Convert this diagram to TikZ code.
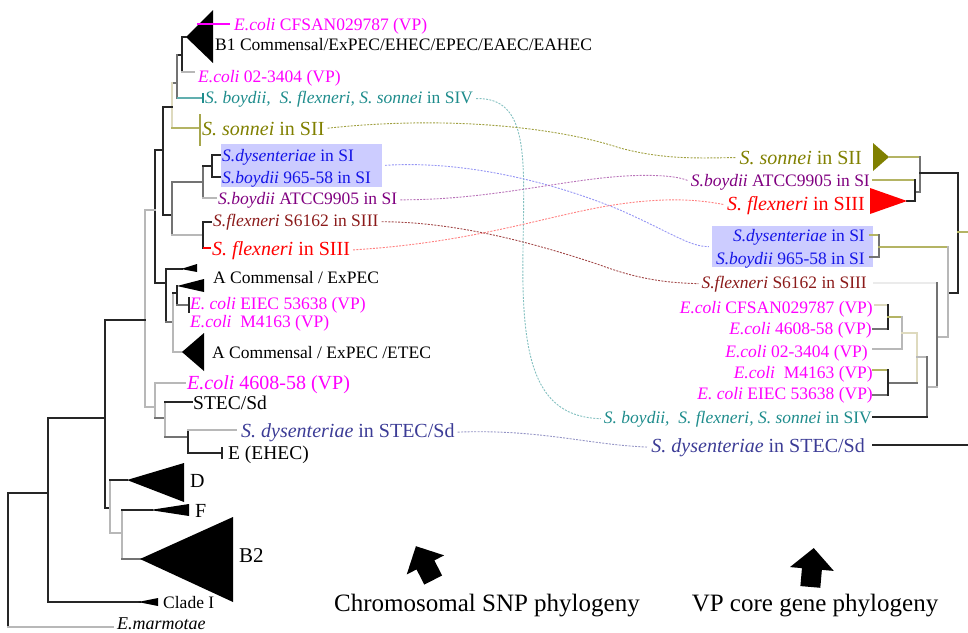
\documentclass[tikz,border=0pt]{standalone}
\usepackage{fontspec}
\setmainfont{Liberation Serif}
\definecolor{cMag}{HTML}{FF00FF}
\definecolor{cTeal}{HTML}{1E8C8C}
\definecolor{cOlive}{HTML}{808000}
\definecolor{cBlue}{HTML}{1414E6}
\definecolor{cPurple}{HTML}{800080}
\definecolor{cDarkRed}{HTML}{8B1A1A}
\definecolor{cRed}{HTML}{FF0000}
\definecolor{cSlate}{HTML}{3C3C96}
\definecolor{cBox}{HTML}{CCCCFF}
\newcommand\fsN{\fontsize{17.5}{20}\selectfont}
\newcommand\fsL{\fontsize{20}{22}\selectfont}
\newcommand\fsT{\fontsize{25}{28}\selectfont}
\begin{document}
\begin{tikzpicture}[x=1pt,y=-1pt,
  lab/.style={inner sep=0pt, anchor=base west, font=\fsN},
  rlab/.style={inner sep=0pt, anchor=base east, font=\fsN},
  bigf/.style={font=\fsL},
  brDark/.style={line width=1.1pt, line cap=rect, draw=black!85},
  brMid/.style={line width=1.1pt, line cap=rect, draw=black!55},
  brLight/.style={line width=1.1pt, line cap=rect, draw=black!28},
  brBeige/.style={line width=1.1pt, line cap=rect, draw={rgb,255:red,222;green,218;blue,190}},
  brOlive/.style={line width=1.1pt, line cap=rect, draw={rgb,255:red,180;green,180;blue,100}},
  hibox/.style={fill=cBox, draw=none, inner sep=0pt},
  link/.style={line width=0.9pt, dash pattern=on 2pt off 1.3pt, shorten <=3pt, shorten >=3pt}
]
\useasboundingbox (0,0) rectangle (968,632);

% ---------- highlight boxes ----------
\node[hibox, minimum width=161pt, minimum height=43pt] (lBox) at (301.5,165.5) {};
\node[hibox, minimum width=161pt, minimum height=41pt] (rBox) at (792.5,246.5) {};

% ---------- chromosomal SNP tree (left) ----------
\fill (186,37) -- (213,10) -- (213,63) -- cycle;
\draw[brDark] (182,37) -- (186,37);
\draw[brDark] (182,37) -- (182,72);
\draw[brLight] (182,72) -- (194,72);
\draw[cMag, line width=1.4pt] (197,24) -- (230,24);
\draw[brDark] (177,55) -- (182,55);
\draw[brMid] (177,55) -- (177,98);
\draw[line width=1.4pt, draw=cTeal!70] (177,98) -- (203,98);
\draw[line width=1.1pt, cTeal] (203,93) -- (203,103);
\draw[brMid] (172,83) -- (177,83);
\draw[brBeige] (172,83) -- (172,128);
\draw[brOlive] (172,128) -- (200,128);
\draw[line width=1.1pt, draw=cOlive!70] (200,114) -- (200,146);
\draw[brDark] (163,107) -- (172,107);
\draw[brDark] (163,107) -- (163,215);
\draw[brDark] (163,215) -- (172,215);
\draw[brMid] (172,182) -- (172,235);
\draw[brMid, line width=1.5pt] (172,182) -- (203,182);
\draw[brLight] (172,235) -- (203,235);
\draw[brMid] (203,166) -- (203,198);
\draw[brLight] (203,198) -- (216,198);
\draw[brDark] (203,166) -- (212,166);
\draw[brDark] (212,155) -- (212,177);
\draw[brDark] (212,155) -- (220,155);
\draw[brDark] (212,177) -- (220,177);
\draw[brDark] (203,222) -- (203,248);
\draw[brDark] (203,222) -- (211,222);
\draw[line width=1.1pt, cRed] (203,248) -- (211,248);
\draw[brDark] (155,150) -- (163,150);
\draw[brDark] (155,150) -- (155,283);
\draw[brDark] (155,283) -- (166,283);
\draw[brDark] (166,269) -- (166,322);
\draw[brDark] (166,269) -- (182,269);
\fill (181,269) -- (197,264) -- (197,272) -- cycle;
\draw[brMid] (166,322) -- (173,322);
\draw[brLight] (173,293) -- (173,352);
\draw[brDark] (173,293) -- (177,293);
\draw[brDark] (177,286) -- (177,305);
\fill (177,286) -- (204,279) -- (204,292) -- cycle;
\draw[brMid] (177,305) -- (189,305);
\draw[brDark] (189,298) -- (189,312);
\draw[brLight] (173,352) -- (182,352);
\fill (182,352) -- (204,333) -- (204,371) -- cycle;
\draw[brLight] (145,210) -- (155,210);
\draw[brLight] (145,210) -- (145,407);
\draw[brLight] (145,407) -- (155,407);
\draw[brLight] (155,383) -- (155,418);
\draw[brLight] (155,383) -- (185,383);
\draw[brMid] (155,418) -- (165,418);
\draw[brLight] (165,402) -- (165,437);
\draw[brDark] (165,402) -- (192,402);
\draw[brMid] (165,437) -- (188,437);
\draw[brDark] (188,430) -- (188,453);
\draw[brLight] (188,430) -- (236,430);
\draw[brDark] (188,453) -- (222,453);
\draw[brDark] (222,448) -- (222,458);
\draw[brDark] (105,320) -- (145,320);
\draw[brDark] (105,320) -- (105,508);
\draw[brDark] (105,508) -- (110,508);
\draw[brLight] (110,480) -- (110,533);
\draw[brDark] (110,480) -- (127,480);
\fill (127,480) -- (184,463) -- (184,502) -- cycle;
\draw[brLight] (110,533) -- (122,533);
\draw[brLight] (122,510) -- (122,559);
\draw[brDark] (122,510) -- (152,510);
\fill (150,510) -- (189,504) -- (189,516) -- cycle;
\draw[brMid] (122,559) -- (141,559);
\fill (140,559) -- (233,517) -- (233,602) -- cycle;
\draw[brDark] (48,418) -- (105,418);
\draw[brDark] (48,418) -- (48,602);
\draw[brDark] (48,602) -- (140,602);
\fill (138,602) -- (158,598) -- (158,606) -- cycle;
\draw[brDark] (8,493) -- (48,493);
\draw[brDark] (8,493) -- (8,627);
\draw[brLight] (8,627) -- (113,627);

% ---------- VP core gene tree (right) ----------
\fill[cOlive] (873,143) -- (873,171) -- (889,157) -- cycle;
\draw[brOlive] (889,157) -- (920,157);
\draw[brMid] (920,157) -- (920,192);
\draw[brMid] (915,192) -- (920,192);
\draw[brOlive] (873,180) -- (915,180);
\draw[brDark] (915,180) -- (915,201);
\draw[brDark] (907,201) -- (915,201);
\fill[cRed] (870,188) -- (870,214) -- (907,201) -- cycle;
\draw[brDark] (920,173) -- (958,173);
\draw[brDark] (958,173) -- (958,293);
\draw[brDark] (948,293) -- (958,293);
\draw[brOlive] (958,232) -- (968,232);
\draw[brOlive] (870,235) -- (879,235);
\draw[brMid] (870,257) -- (879,257);
\draw[brMid] (879,235) -- (879,257);
\draw[brOlive] (879,247) -- (948,247);
\draw[brLight] (948,247) -- (948,337);
\draw[brLight] (937,337) -- (948,337);
\draw[line width=1.1pt, draw=black!8] (873,283) -- (937,283);
\draw[brMid] (937,283) -- (937,387);
\draw[brLight] (927,387) -- (937,387);
\draw[brBeige] (875,305) -- (888,305);
\draw[brMid] (873,329) -- (888,329);
\draw[brDark] (888,305) -- (888,329);
\draw[brOlive] (888,317) -- (902,317);
\draw[brLight] (902,317) -- (902,349);
\draw[brLight] (873,349) -- (902,349);
\draw[brBeige] (902,333) -- (917,333);
\draw[brBeige] (917,333) -- (917,383);
\draw[brMid] (888,383) -- (917,383);
\draw[brOlive] (873,370) -- (888,370);
\draw[brMid] (873,395) -- (888,395);
\draw[brDark] (888,370) -- (888,395);
\draw[brLight] (917,357) -- (927,357);
\draw[brMid] (927,357) -- (927,417);
\draw[brDark] (873,417) -- (927,417);
\draw[brDark] (873,445) -- (968,445);

% ---------- left labels ----------
\node[lab, cMag] (lCFSAN) at (234,30) {\textit{E.coli} CFSAN029787 (VP)};
\node[lab] (lB1) at (215,50) {B1 Commensal/ExPEC/EHEC/EPEC/EAEC/EAHEC};
\node[lab, cMag] (l0234) at (198,82) {\textit{E.coli} 02-3404 (VP)};
\node[lab, cTeal] (lSIV) at (205,103) {\textit{S. boydii,\ \ S. flexneri, S. sonnei} in SIV};
\node[lab, bigf, cOlive] (lSII) at (202,135) {\textit{S. sonnei} in SII};
\node[lab, cBlue] (lDys) at (222,161) {\textit{S.dysenteriae} in SI};
\node[lab, cBlue] (l965) at (222,183) {\textit{S.boydii} 965-58 in SI};
\node[lab, cPurple] (lATCC) at (218,204) {\textit{S.boydii} ATCC9905 in SI};
\node[lab, cDarkRed] (lS6162) at (213,226) {\textit{S.flexneri} S6162 in SIII};
\node[lab, bigf, cRed] (lSIII) at (212,255) {\textit{S. flexneri} in SIII};
\node[lab] (lA1) at (213,283) {A Commensal / ExPEC};
\node[lab, cMag] (lEIEC) at (190,309) {\textit{E. coli} EIEC 53638 (VP)};
\node[lab, cMag] (lM4163) at (190,327) {\textit{E.coli}\ \ M4163 (VP)};
\node[lab] (lA2) at (212,358) {A Commensal / ExPEC /ETEC};
\node[lab, bigf, cMag] (l4608) at (187,389) {\textit{E.coli} 4608-58 (VP)};
\node[lab, font=\fontsize{19.5}{21}\selectfont] (lSTECSd) at (193,409) {STEC/Sd};
\node[lab, bigf, cSlate] (lSTEC) at (241,437) {\textit{S. dysenteriae} in STEC/Sd};
\node[lab, font=\fontsize{19.5}{21}\selectfont] (lEHEC) at (228,459) {E (EHEC)};
\node[lab, bigf] (lD) at (190,487) {D};
\node[lab, bigf] (lF) at (195,517) {F};
\node[lab, font=\fontsize{21}{23}\selectfont] (lB2) at (239,562) {B2};
\node[lab] (lClade) at (163,608) {Clade I};
\node[lab, font=\fontsize{18}{20}\selectfont] (lMarm) at (117,629) {\textit{E.marmotae}};

% ---------- right labels ----------
\node[rlab, bigf, cOlive] (rSII) at (862,164) {\textit{S. sonnei} in SII};
\node[rlab, cPurple] (rATCC) at (870,186) {\textit{S.boydii} ATCC9905 in SI};
\node[rlab, bigf, cRed] (rSIII) at (865,210) {\textit{S. flexneri} in SIII};
\node[rlab, cBlue] (rDys) at (865,241) {\textit{S.dysenteriae} in SI};
\node[rlab, cBlue] (r965) at (865,264) {\textit{S.boydii} 965-58 in SI};
\node[rlab, cDarkRed] (rS6162) at (867,288) {\textit{S.flexneri} S6162 in SIII};
\node[rlab, cMag] (rCFSAN) at (873,313) {\textit{E.coli} CFSAN029787 (VP)};
\node[rlab, cMag] (r4608) at (872,334) {\textit{E.coli} 4608-58 (VP)};
\node[rlab, cMag] (r0234) at (868,357) {\textit{E.coli} 02-3404 (VP)};
\node[rlab, cMag] (rM4163) at (873,378) {\textit{E.coli}\ \ M4163 (VP)};
\node[rlab, cMag] (rEIEC) at (873,399) {\textit{E. coli} EIEC 53638 (VP)};
\node[rlab, cTeal] (rSIV) at (872,423) {\textit{S. boydii,\ \ S. flexneri, S. sonnei} in SIV};
\node[rlab, bigf, cSlate] (rSTEC) at (865,452) {\textit{S. dysenteriae} in STEC/Sd};

% ---------- dotted links between the two trees ----------
\draw[link, cTeal!55] (lSIV.east) .. controls (530,97) and (524,160) .. (523,250)
  .. controls (521,360) and (535,417) .. (rSIV.west);
\draw[link, cOlive!75] (lSII.east) .. controls (450,115) and (560,128) .. (620,148)
  .. controls (665,160) and (700,158) .. (rSII.west);
\draw[link, cBlue!45] (lBox.east) .. controls (470,160) and (560,185) .. (620,210)
  .. controls (670,232) and (690,247) .. (rBox.west);
\draw[link, cPurple!55] (lATCC.east) .. controls (490,200) and (560,180) .. (625,176)
  .. controls (660,174) and (680,177) .. (rATCC.west);
\draw[link, cRed!50] (lSIII.east) .. controls (480,242) and (550,214) .. (620,204)
  .. controls (670,197) and (700,200) .. (rSIII.west);
\draw[link, cDarkRed!80] (lS6162.east) .. controls (460,222) and (540,245) .. (600,265)
  .. controls (640,280) and (670,283) .. (rS6162.west);
\draw[link, cSlate!55] (lSTEC.east) .. controls (540,429) and (590,445) .. (rSTEC.west);

% ---------- block arrows and captions ----------
\fill[shift={(425,564)}, rotate=27]
  (0,-20) -- (21,1) -- (10,1) -- (10,18) -- (-10,18) -- (-10,1) -- (-21,1) -- cycle;
\fill[shift={(812,568)}, rotate=-5]
  (0,-20) -- (22,1) -- (10,1) -- (10,19) -- (-10,19) -- (-10,1) -- (-22,1) -- cycle;
\node[font=\fsT, inner sep=0pt] (capL) at (487,606) {Chromosomal SNP phylogeny};
\node[font=\fsT, inner sep=0pt] (capR) at (815,606) {VP core gene phylogeny};
\end{tikzpicture}
\end{document}
